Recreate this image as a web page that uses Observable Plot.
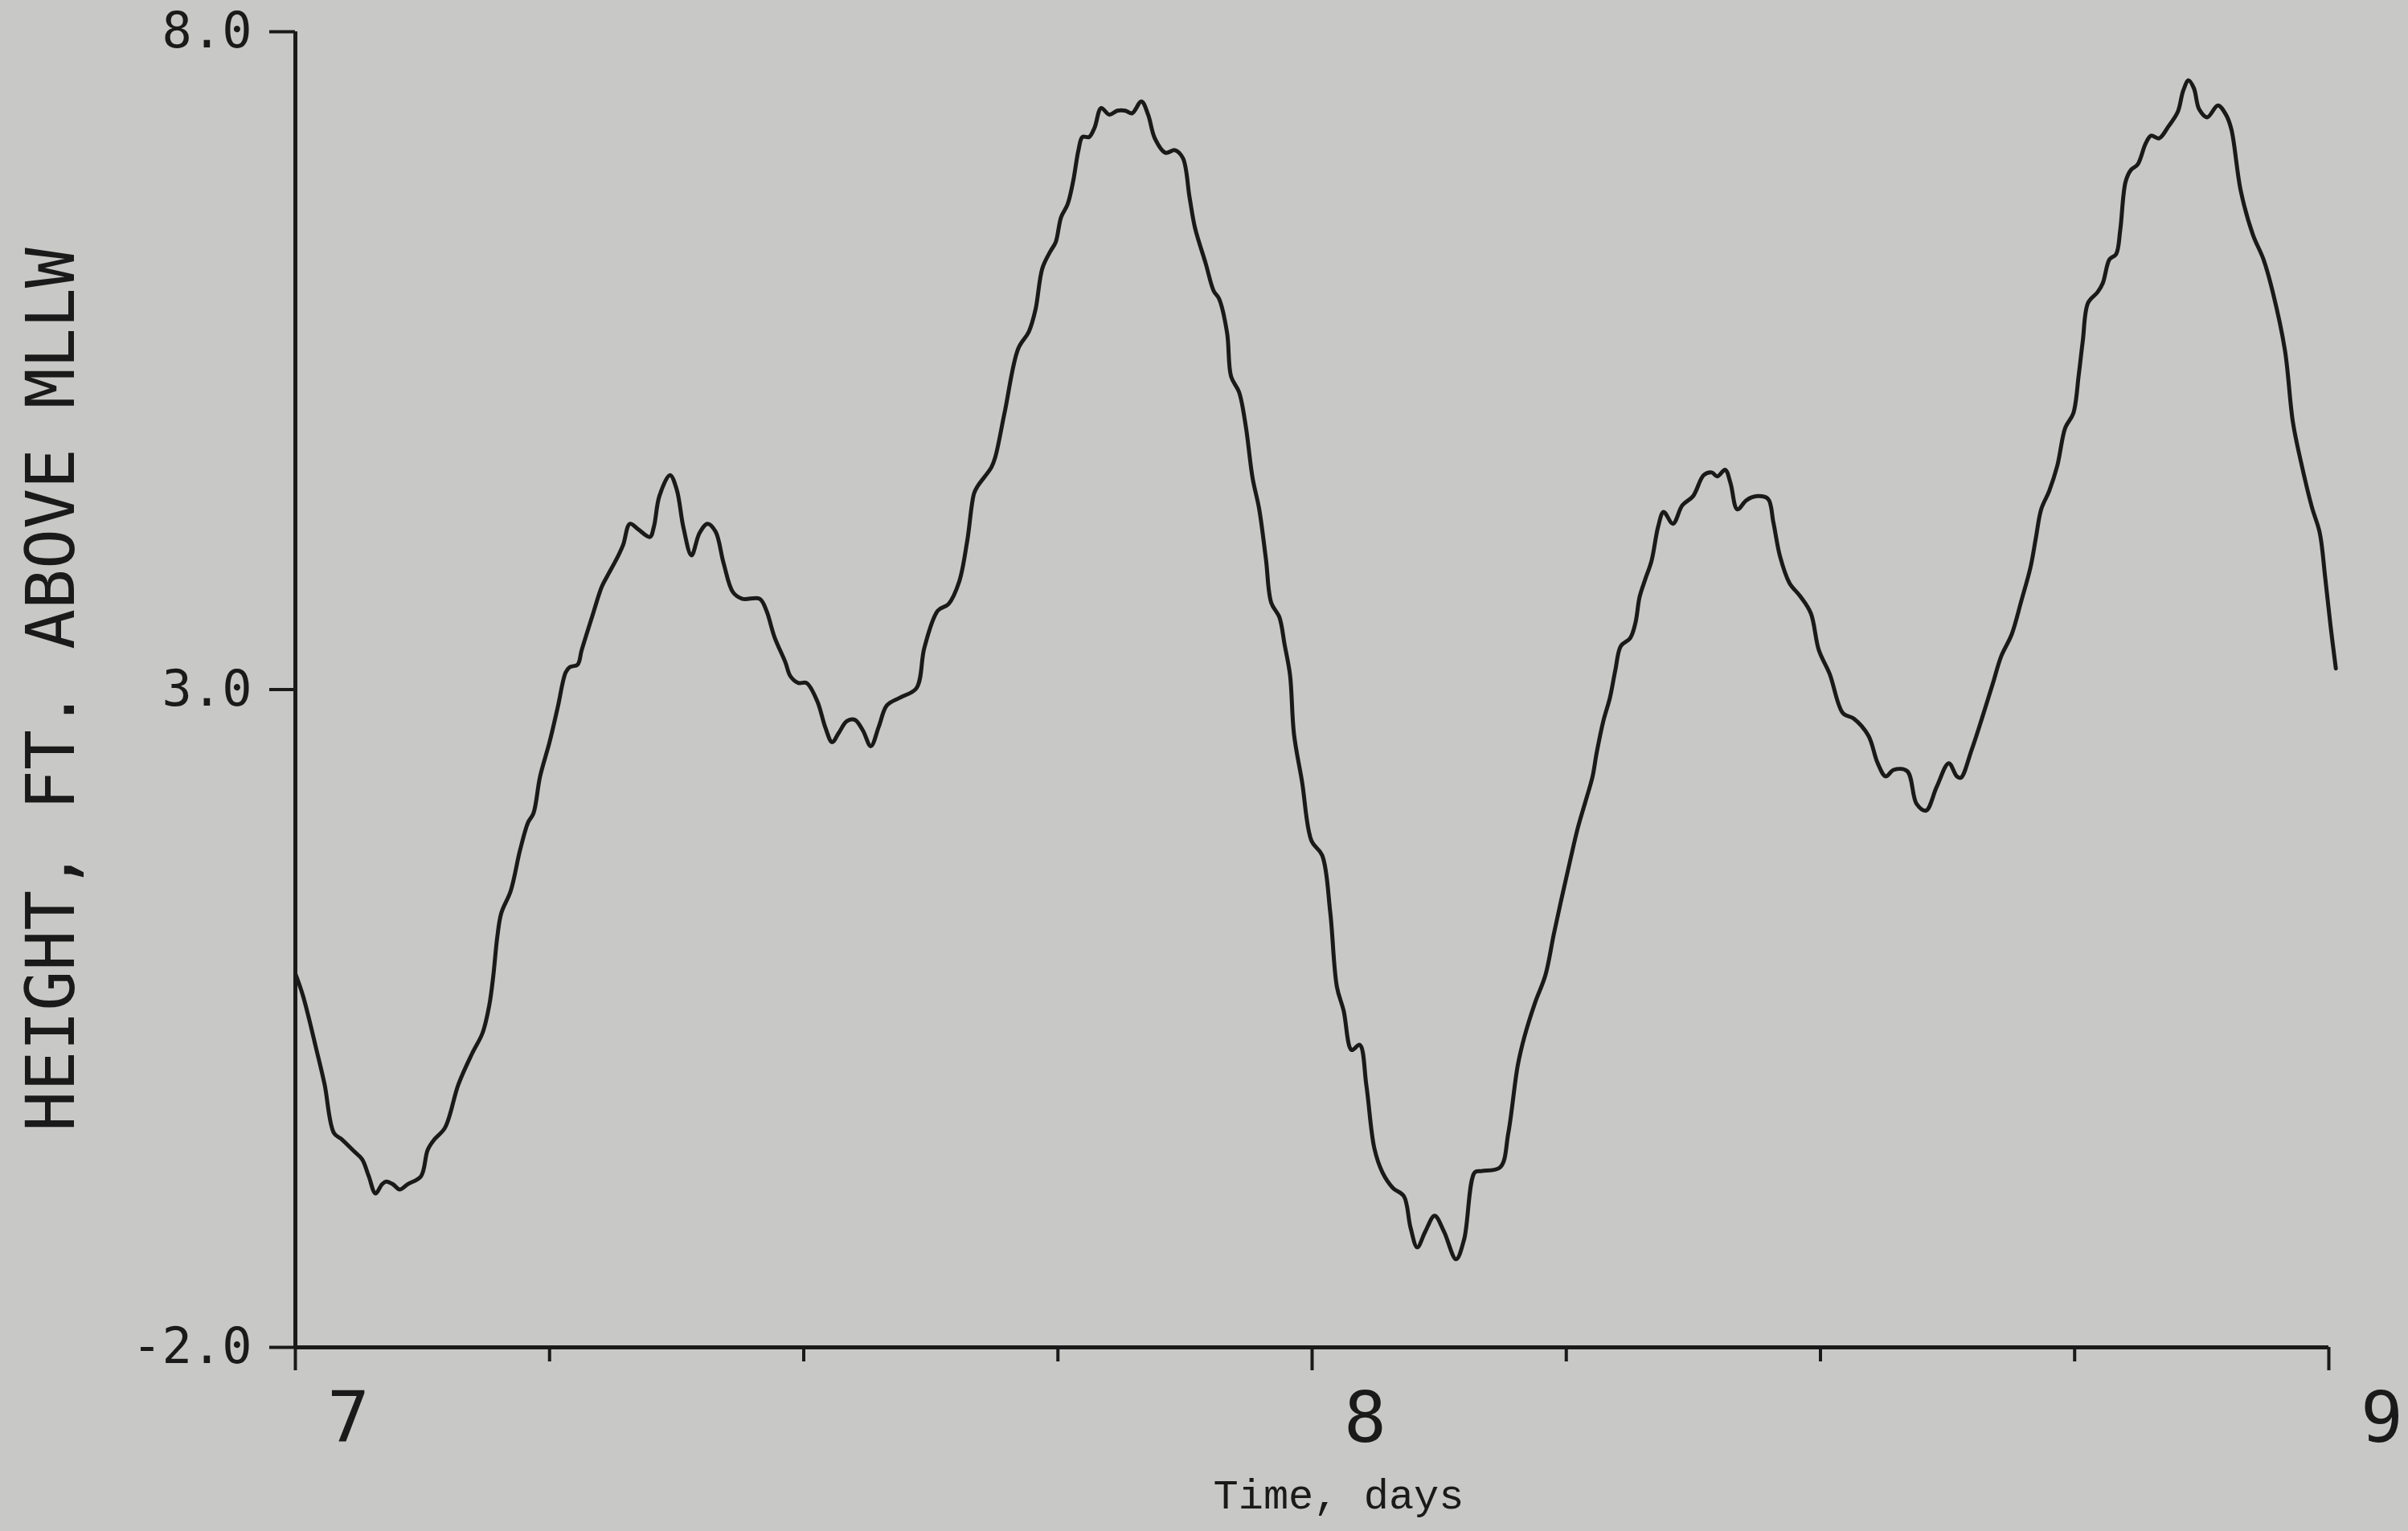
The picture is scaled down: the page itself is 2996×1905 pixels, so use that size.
<!DOCTYPE html>
<html>
<head>
<meta charset="utf-8">
<script src="https://cdn.jsdelivr.net/npm/d3@7"></script>
<script src="https://cdn.jsdelivr.net/npm/@observablehq/plot@0.6"></script>
<style>
html, body { margin: 0; padding: 0; background: #c8c8c6; }
#chart svg { display: block; }
</style>
</head>
<body>
<div id="chart"></div>
<script>
// Time (days) and water height (ft above MLLW)
const days = [
  7.0000, 7.0076, 7.0208, 7.0287, 7.0379, 7.0458, 7.0577, 7.0656, 7.0722, 7.0788,
  7.0853, 7.0893, 7.0959, 7.1025, 7.1104, 7.1235, 7.1301, 7.1367, 7.1472, 7.1604,
  7.1736, 7.1841, 7.1907, 7.1946, 7.1986, 7.2025, 7.2118, 7.2210, 7.2289, 7.2342,
  7.2407, 7.2500, 7.2579, 7.2658, 7.2697, 7.2776, 7.2816, 7.2921, 7.3013, 7.3066,
  7.3171, 7.3224, 7.3290, 7.3369, 7.3487, 7.3527, 7.3580, 7.3685, 7.3751, 7.3817,
  7.3896, 7.3975, 7.4054, 7.4133, 7.4212, 7.4304, 7.4396, 7.4567, 7.4633, 7.4712,
  7.4818, 7.4870, 7.4949, 7.5028, 7.5134, 7.5213, 7.5279, 7.5344, 7.5423, 7.5502,
  7.5581, 7.5660, 7.5739, 7.5818, 7.5950, 7.6108, 7.6187, 7.6319, 7.6424, 7.6529,
  7.6608, 7.6675, 7.6714, 7.6846, 7.6885, 7.6977, 7.7109, 7.7214, 7.7280, 7.7346,
  7.7425, 7.7478, 7.7531, 7.7596, 7.7649, 7.7702, 7.7741, 7.7807, 7.7860, 7.7926,
  7.8005, 7.8084, 7.8163, 7.8229, 7.8321, 7.8387, 7.8453, 7.8558, 7.8650, 7.8729,
  7.8795, 7.8848, 7.8953, 7.9032, 7.9085, 7.9164, 7.9203, 7.9282, 7.9348, 7.9414,
  7.9480, 7.9546, 7.9598, 7.9678, 7.9730, 7.9783, 7.9822, 7.9901, 7.9994, 8.0099,
  8.0178, 8.0244, 8.0310, 8.0389, 8.0468, 8.0534, 8.0613, 8.0692, 8.0797, 8.0902,
  8.0968, 8.1034, 8.1113, 8.1205, 8.1297, 8.1416, 8.1495, 8.1600, 8.1666, 8.1851,
  8.1930, 8.2022, 8.2088, 8.2193, 8.2295, 8.2377, 8.2456, 8.2535, 8.2614, 8.2693,
  8.2759, 8.2799, 8.2864, 8.2930, 8.2983, 8.3036, 8.3128, 8.3181, 8.3220, 8.3273,
  8.3339, 8.3404, 8.3457, 8.3549, 8.3641, 8.3747, 8.3852, 8.3931, 8.3984, 8.4063,
  8.4115, 8.4182, 8.4273, 8.4379, 8.4484, 8.4537, 8.4603, 8.4695, 8.4800, 8.4905,
  8.4984, 8.5090, 8.5221, 8.5326, 8.5471, 8.5563, 8.5642, 8.5721, 8.5853, 8.5946,
  8.6038, 8.6143, 8.6262, 8.6341, 8.6381, 8.6486, 8.6592, 8.6697, 8.6776, 8.6881,
  8.6974, 8.7066, 8.7118, 8.7171, 8.7250, 8.7329, 8.7408, 8.7487, 8.7540, 8.7580,
  8.7632, 8.7725, 8.7777, 8.7843, 8.7908, 8.7948, 8.8001, 8.8054, 8.8119, 8.8198,
  8.8251, 8.8330, 8.8422, 8.8514, 8.8567, 8.8620, 8.8673, 8.8725, 8.8804, 8.8909,
  8.8988, 8.9041, 8.9134, 8.9252, 8.9357, 8.9449, 8.9568, 8.9647, 8.9726, 8.9832,
  8.9911, 8.9963, 9.0016, 9.0069
];
const heights = [
  0.84, 0.67, 0.26, 0.00, -0.37, -0.42, -0.51, -0.57, -0.70, -0.83,
  -0.76, -0.74, -0.76, -0.80, -0.76, -0.70, -0.50, -0.42, -0.33, 0.00,
  0.23, 0.39, 0.60, 0.82, 1.12, 1.30, 1.47, 1.78, 1.99, 2.06,
  2.34, 2.60, 2.86, 3.13, 3.17, 3.19, 3.30, 3.56, 3.78, 3.86,
  4.01, 4.10, 4.26, 4.22, 4.16, 4.24, 4.47, 4.63, 4.52, 4.23,
  4.02, 4.19, 4.26, 4.20, 3.96, 3.74, 3.69, 3.69, 3.60, 3.40,
  3.21, 3.10, 3.05, 3.05, 2.91, 2.71, 2.60, 2.67, 2.76, 2.77,
  2.69, 2.57, 2.72, 2.88, 2.94, 3.01, 3.32, 3.60, 3.65, 3.82,
  4.13, 4.49, 4.55, 4.69, 4.77, 5.11, 5.59, 5.72, 5.89, 6.20,
  6.33, 6.40, 6.59, 6.69, 6.86, 7.10, 7.20, 7.20, 7.27, 7.42,
  7.37, 7.40, 7.40, 7.38, 7.47, 7.37, 7.19, 7.08, 7.10, 7.04,
  6.74, 6.51, 6.24, 6.03, 5.97, 5.71, 5.38, 5.26, 5.00, 4.61,
  4.37, 3.99, 3.66, 3.55, 3.34, 3.11, 2.66, 2.30, 1.85, 1.74,
  1.31, 0.74, 0.56, 0.26, 0.30, -0.01, -0.49, -0.67, -0.79, -0.85,
  -1.09, -1.24, -1.12, -1.00, -1.12, -1.33, -1.18, -0.67, -0.66, -0.63,
  -0.37, 0.14, 0.36, 0.62, 0.83, 1.14, 1.42, 1.69, 1.95, 2.16,
  2.34, 2.52, 2.76, 2.94, 3.15, 3.33, 3.39, 3.51, 3.70, 3.83,
  3.98, 4.24, 4.35, 4.26, 4.40, 4.47, 4.63, 4.65, 4.62, 4.67,
  4.57, 4.37, 4.44, 4.47, 4.45, 4.27, 4.01, 3.81, 3.71, 3.58,
  3.30, 3.12, 2.82, 2.78, 2.65, 2.44, 2.34, 2.39, 2.38, 2.13,
  2.08, 2.26, 2.44, 2.34, 2.33, 2.54, 2.79, 3.05, 3.25, 3.42,
  3.67, 3.93, 4.15, 4.37, 4.51, 4.70, 4.99, 5.10, 5.39, 5.65,
  5.94, 6.02, 6.09, 6.27, 6.31, 6.49, 6.86, 6.95, 6.99, 7.15,
  7.21, 7.19, 7.28, 7.39, 7.55, 7.63, 7.57, 7.41, 7.35, 7.44,
  7.37, 7.26, 6.79, 6.46, 6.27, 6.02, 5.58, 5.03, 4.73, 4.39,
  4.19, 3.86, 3.49, 3.16
];

const xMajorTicks = [7, 8, 9];
const xMinorTicks = [7.25, 7.5, 7.75, 8.25, 8.5, 8.75];
const yTicks = [-2, 3, 8];
const yLabel = "HEIGHT, FT. ABOVE MLLW";
const xLabel = "Time, days";

const data = days.map((d, i) => ({day: d, height: heights[i]}));

const ink = "#1a1a1a";
const paper = "#c8c8c6";
const plotterFont = "'DejaVu Sans Mono', 'Liberation Mono', monospace";
const typeFont = "'Courier New', 'FreeMono', 'Liberation Mono', monospace";

const chart = Plot.plot({
  width: 2996,
  height: 1905,
  marginLeft: 367,
  marginRight: 99,
  marginTop: 39,
  marginBottom: 229,
  style: {background: paper, color: ink, overflow: "visible"},
  x: {domain: [xMajorTicks[0], xMajorTicks[xMajorTicks.length - 1]], label: null},
  y: {domain: [yTicks[0], yTicks[yTicks.length - 1]], label: null},
  marks: [
    // axis lines
    Plot.ruleY(yTicks.slice(0, 1), {stroke: ink, strokeWidth: 5}),
    Plot.ruleX(xMajorTicks.slice(0, 1), {stroke: ink, strokeWidth: 5}),
    // x ticks
    Plot.axisX(xMajorTicks, {tickSize: 29, tickFormat: () => "", strokeWidth: 4, label: null}),
    Plot.axisX(xMinorTicks, {tickSize: 18, tickFormat: () => "", strokeWidth: 4, label: null}),
    Plot.text(xMajorTicks, {
      x: d => d, text: d => String(d), frameAnchor: "bottom",
      dx: 66, dy: 55, lineAnchor: "top",
      fontSize: 88, fontFamily: plotterFont, fill: ink
    }),
    // y ticks and labels
    Plot.axisY(yTicks, {
      tickSize: 32, tickPadding: 22, tickFormat: d => d.toFixed(1),
      fontSize: 62, fontFamily: plotterFont, strokeWidth: 4, label: null
    }),
    // the tide trace
    Plot.line(data, {x: "day", y: "height", stroke: ink, strokeWidth: 5, curve: "catmull-rom"}),
    // axis titles
    Plot.text([yLabel], {
      text: d => d, frameAnchor: "left", rotate: -90,
      dx: -276, lineAnchor: "bottom", textAnchor: "middle",
      fontSize: 83, fontFamily: plotterFont, fill: ink
    }),
    Plot.text([xLabel], {
      text: d => d, frameAnchor: "bottom",
      dx: 33, dy: 200, lineAnchor: "bottom",
      fontSize: 52, fontFamily: typeFont, fill: ink
    })
  ]
});

document.getElementById("chart").appendChild(chart);
</script>
</body>
</html>
